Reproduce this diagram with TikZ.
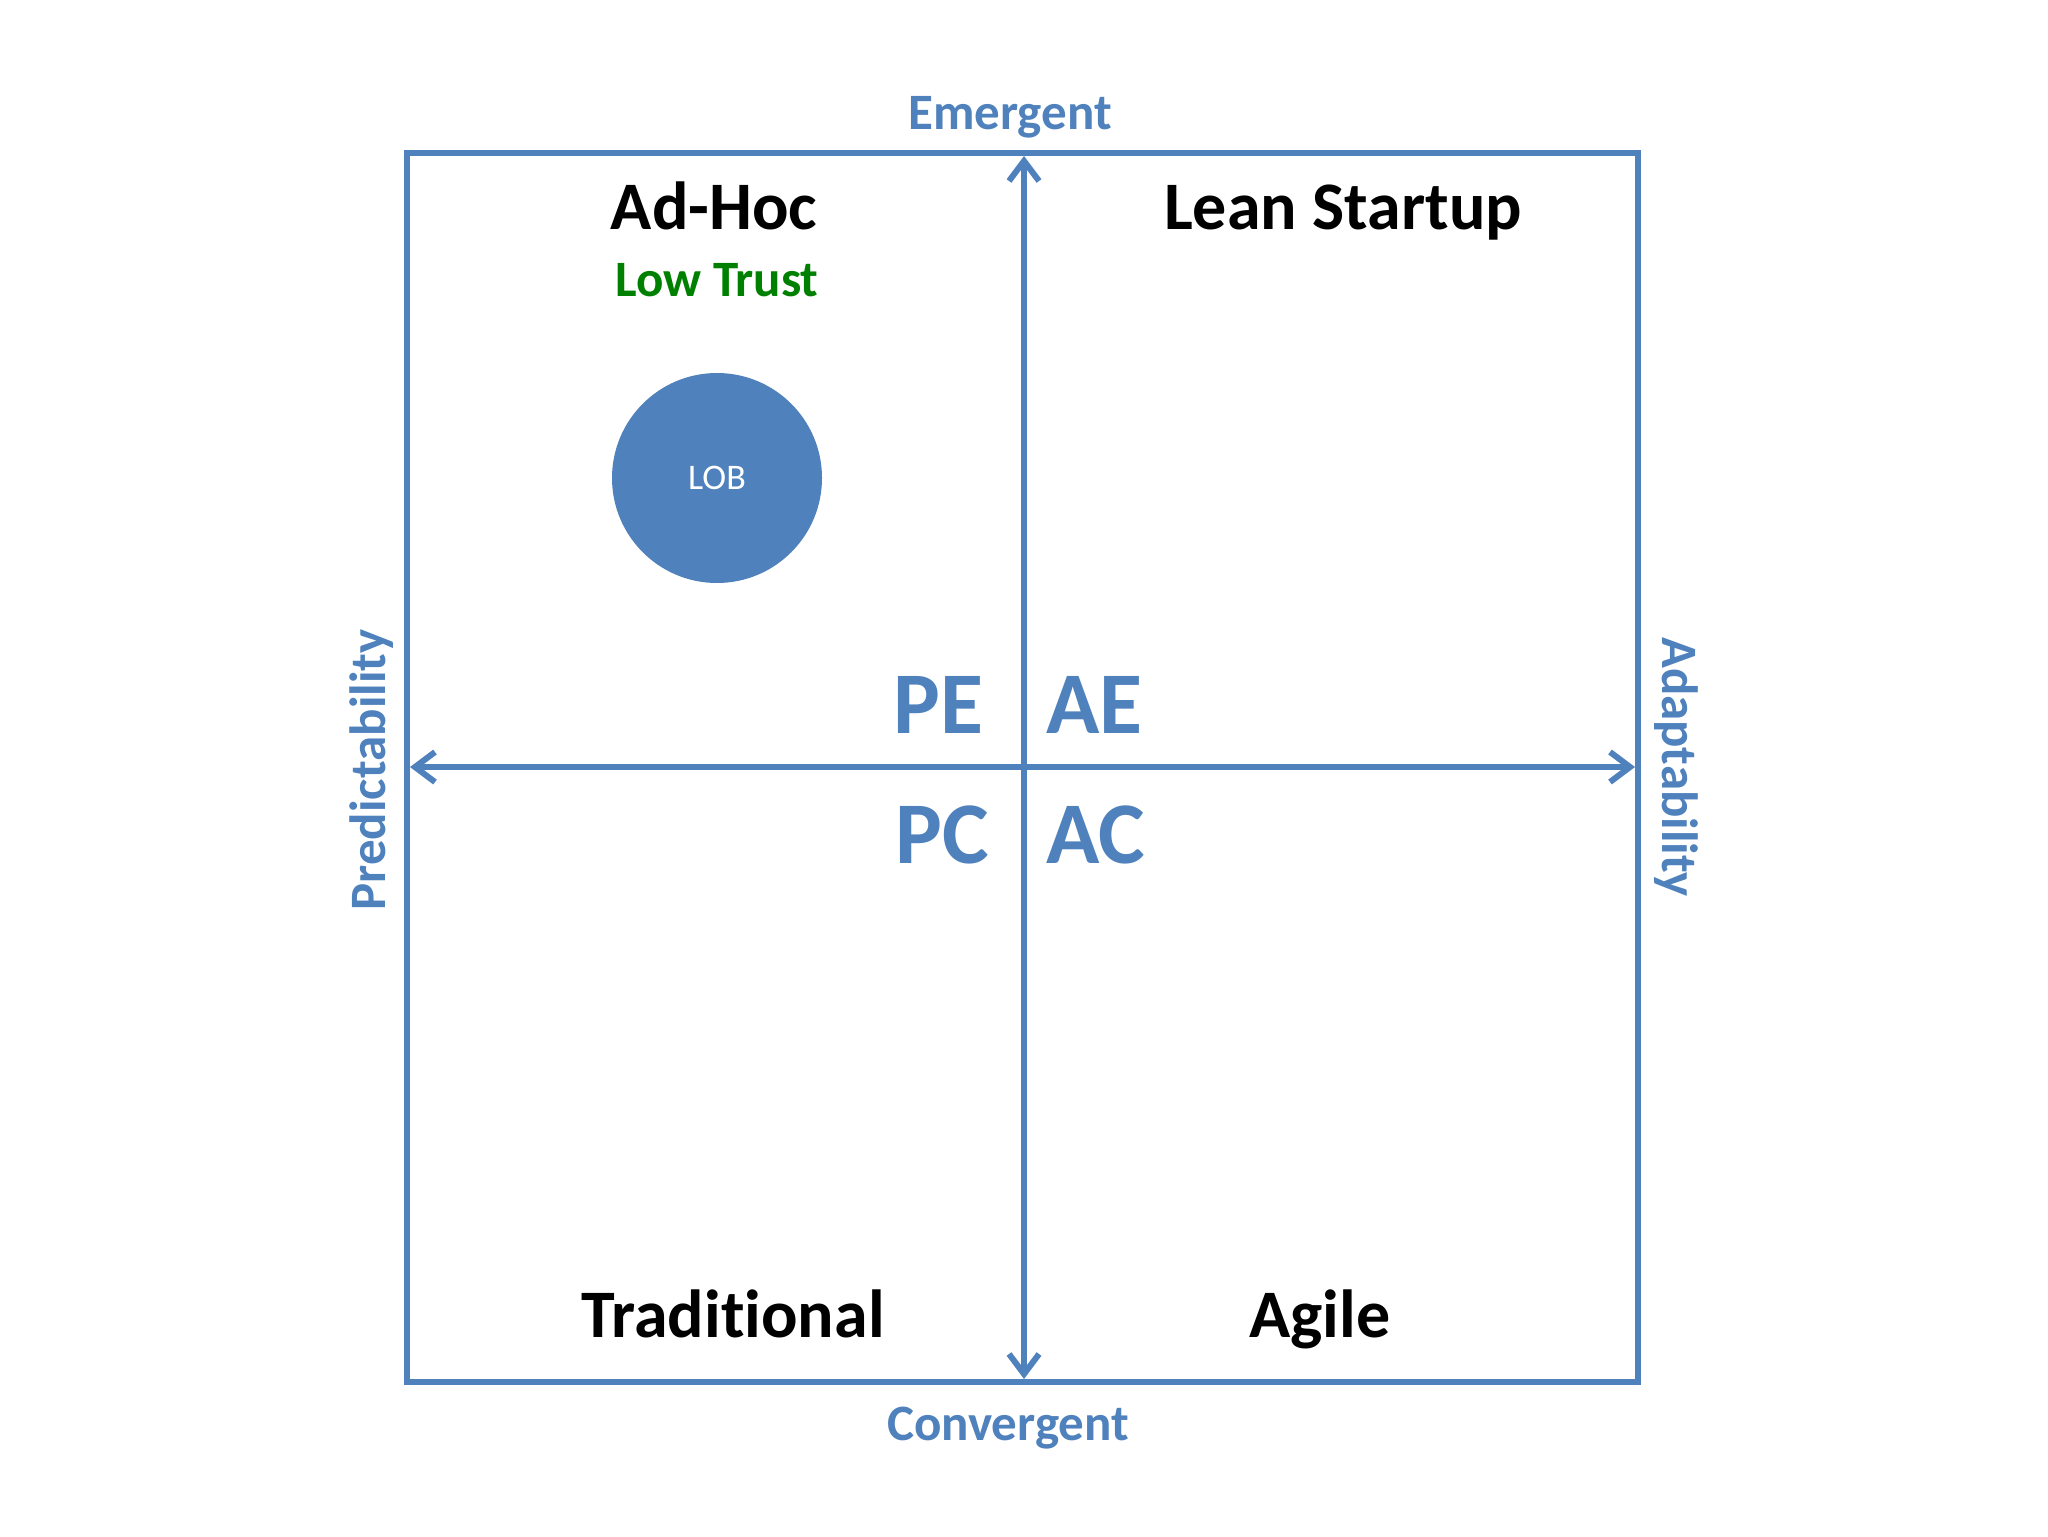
\documentclass[tikz,border=0pt]{standalone}
\usepackage{fontspec}
\setmainfont{Carlito}[Ligatures={NoCommon}]
\usetikzlibrary{arrows.meta}
\definecolor{axisblue}{RGB}{79,129,189}
\definecolor{trustgreen}{RGB}{0,128,0}
\tikzset{
  frame/.style={draw=axisblue, line width=3pt},
  axis/.style={draw=axisblue, line width=3pt, {Straight Barb[length=10pt,width=15pt]}-{Straight Barb[length=10pt,width=15pt]}},
  axislabel/.style={text=axisblue, font=\fontsize{25.5}{30}\selectfont\bfseries, inner sep=0pt},
  quadlabel/.style={text=black, font=\fontsize{34}{40}\selectfont\bfseries, inner sep=0pt, anchor=base},
  codelabel/.style={text=axisblue, font=\fontsize{44}{50}\selectfont\bfseries, inner sep=0pt},
  lob/.style={circle, fill=axisblue, minimum size=105pt, inner sep=0pt, text=white, font=\fontsize{18}{22}\selectfont}
}
\begin{document}
\begin{tikzpicture}[x=0.5pt,y=-0.5pt]
\useasboundingbox (0,0) rectangle (2048,1536);
\fill[white] (0,0) rectangle (2048,1536);
% frame
\draw[frame] (407,153) rectangle (1638,1382);
% axis endpoints
\coordinate (top) at (1024,156);
\coordinate (bottom) at (1024,1379);
\coordinate (left) at (410,767);
\coordinate (right) at (1635,767);
\draw[axis] (bottom) -- (top);
\draw[axis] (left) -- (right);
% axis labels
\node[axislabel, anchor=base] (emergent) at (1010,129) {Emergent};
\node[axislabel, anchor=base] (convergent) at (1008,1440) {Convergent};
\node[axislabel, anchor=base, rotate=90] (predict) at (385,770) {Predictability};
\node[axislabel, anchor=base, rotate=-90] (adapt) at (1662,767) {Adaptability};
% quadrant labels
\node[quadlabel] (adhoc) at (714,229) {Ad-Hoc};
\node[quadlabel] (lean) at (1343,229) {Lean Startup};
\node[quadlabel] (trad) at (733,1337) {Traditional};
\node[quadlabel] (agile) at (1320,1337) {Agile};
\node[text=trustgreen, font=\fontsize{25.5}{30}\selectfont\bfseries, inner sep=0pt, anchor=base] (trust) at (717,296) {Low Trust};
% codes
\node[codelabel, anchor=base east] (pe) at (984,733) {PE};
\node[codelabel, anchor=base west] (ae) at (1046,733) {AE};
\node[codelabel, anchor=base east] (pc) at (989,863) {PC};
\node[codelabel, anchor=base west] (ac) at (1046,863) {AC};
% LOB
\node[lob] (lobnode) at (717,478) {LOB};
\end{tikzpicture}
\end{document}
